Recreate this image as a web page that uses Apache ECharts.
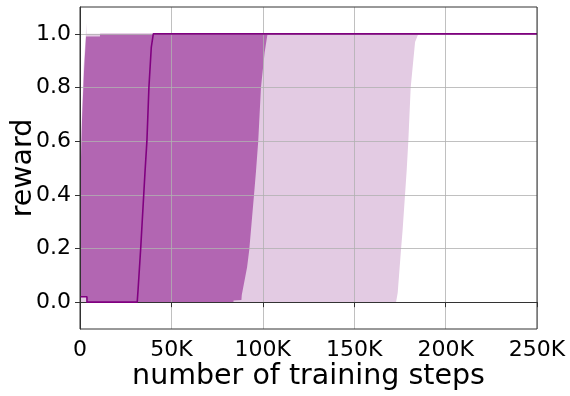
<!DOCTYPE html>
<html>
<head>
<meta charset="utf-8">
<script src="https://cdn.jsdelivr.net/npm/echarts@6/dist/echarts.min.js"></script>
<style>
  html, body { margin: 0; padding: 0; background: #fff; }
  #chart { width: 570px; height: 396px; }
</style>
</head>
<body>
<div id="chart"></div>
<script>
// Axis ticks
const xTicks = [0, 50000, 100000, 150000, 200000, 250000];
const yTicks = [0, 0.2, 0.4, 0.6, 0.8, 1.0];

// Median reward over training steps: [step, reward]
const medianReward = [
  [0, 0.02], [3800, 0.02], [3800, 0], [31300, 0], [31800, 0.05], [33200, 0.2],
  [35600, 0.49], [36600, 0.6], [37700, 0.8], [39000, 0.95], [40100, 1.0], [250000, 1.0]
];

// Inner (interquartile) band boundaries
const innerUpper = [
  [0, 0.4], [1100, 0.68], [2200, 0.86], [3300, 0.99], [10900, 0.99], [11000, 1.0], [250000, 1.0]
];
const innerLower = [
  [0, 0.02], [3800, 0.02], [3800, 0], [83900, 0], [84000, 0.006], [88300, 0.008],
  [88500, 0.027], [89700, 0.07], [91400, 0.13], [92600, 0.195], [95200, 0.4],
  [96300, 0.49], [97500, 0.6], [99000, 0.8], [101000, 0.93], [102600, 1.0], [250000, 1.0]
];

// Outer (min / max) band boundaries
const outerUpper = [
  [0, 0.45], [1000, 0.7], [2000, 0.88], [3200, 1.0], [3400, 1.04], [3600, 1.0], [250000, 1.0]
];
const outerLower = [
  [0, 0], [172900, 0], [173800, 0.035], [175600, 0.195], [176500, 0.27], [178700, 0.49],
  [179600, 0.6], [180900, 0.8], [183300, 0.97], [185100, 1.0], [250000, 1.0]
];

const FONT = 'DejaVu Sans';
const gridColor = 'rgba(176,176,176,0.8)';
const spineColor = '#333';

// Filled polygon between an upper and a lower boundary
function bandRenderer(upper, lower, color) {
  return function (params, api) {
    const pts = upper.concat(lower.slice().reverse()).map(function (p) { return api.coord(p); });
    return { type: 'polygon', shape: { points: pts }, style: { fill: color, stroke: null } };
  };
}

const chart = echarts.init(document.getElementById('chart'), null, { renderer: 'canvas' });

chart.setOption({
  animation: false,
  backgroundColor: '#fff',
  grid: {
    left: 80, right: 33, top: 7, bottom: 67,
    outerBoundsMode: 'none',
    containLabel: false,
    show: true, borderColor: spineColor, borderWidth: 1, z: 10,
    backgroundColor: 'transparent'
  },
  xAxis: {
    type: 'value',
    min: 0, max: 250000, interval: 50000,
    z: 3,
    name: 'number of training steps',
    nameLocation: 'middle',
    nameGap: 33,
    nameMoveOverlap: false,
    nameTextStyle: { fontFamily: FONT, fontSize: 28.5, color: '#000' },
    axisLine: { show: true, lineStyle: { color: spineColor, width: 1 } },
    axisTick: { show: true, inside: false, length: 5, lineStyle: { color: spineColor } },
    axisLabel: {
      margin: 10, fontFamily: FONT, fontSize: 22, color: '#000',
      formatter: function (v) { return v === 0 ? '0' : (v / 1000) + 'K'; }
    },
    splitLine: { show: true, lineStyle: { color: gridColor, width: 1 } }
  },
  yAxis: {
    type: 'value',
    min: -0.1, max: 1.1,
    z: 3,
    name: 'reward',
    nameLocation: 'middle',
    nameGap: 42,
    nameMoveOverlap: false,
    nameTextStyle: { fontFamily: FONT, fontSize: 28.5, color: '#000' },
    axisLine: { show: true, lineStyle: { color: spineColor, width: 1 } },
    axisTick: { show: true, inside: false, length: 5, customValues: yTicks, lineStyle: { color: spineColor } },
    axisLabel: {
      margin: 9, fontFamily: FONT, fontSize: 22, color: '#000',
      customValues: yTicks,
      formatter: function (v) { return v.toFixed(1); }
    },
    splitLine: { show: true, lineStyle: { color: gridColor, width: 1 } }
  },
  series: [
    {
      type: 'custom', name: 'min-max', z: 1, clip: true,
      data: [0],
      renderItem: bandRenderer(outerUpper, outerLower, '#e3cbe3')
    },
    {
      type: 'custom', name: 'quartiles', z: 1, clip: true,
      data: [0],
      renderItem: bandRenderer(innerUpper, innerLower, '#b266b2')
    },
    {
      type: 'line', name: 'median', z: 5,
      data: medianReward,
      showSymbol: false,
      lineStyle: { color: '#800080', width: 1.6 }
    }
  ]
});
</script>
</body>
</html>
